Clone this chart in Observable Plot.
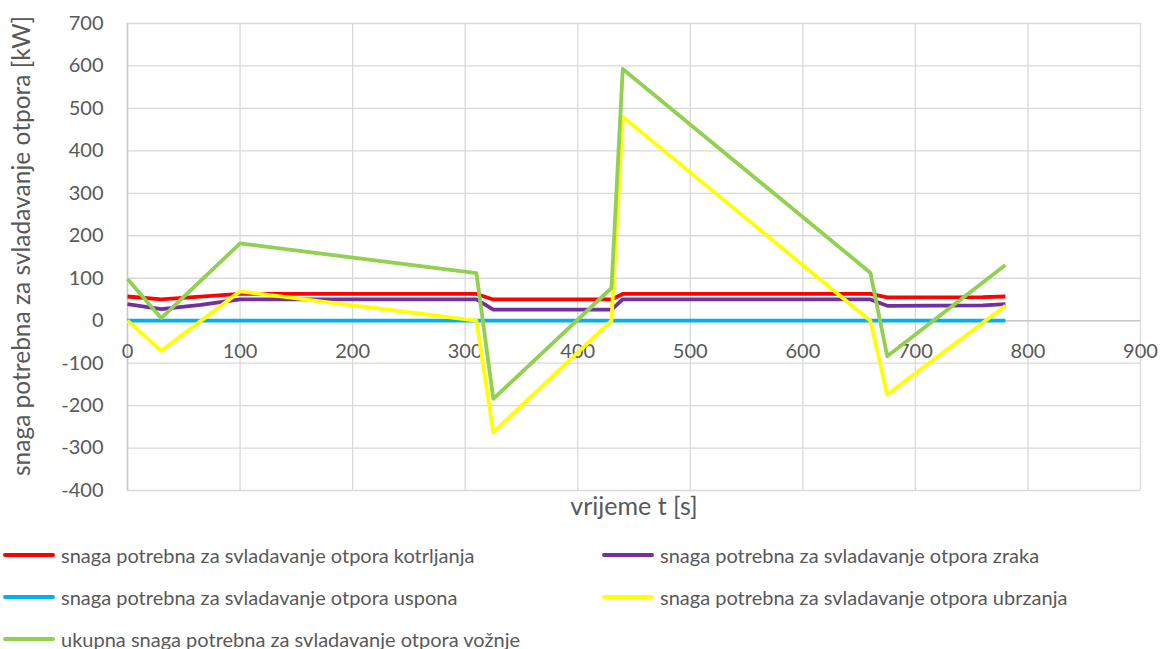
<!DOCTYPE html>
<html>
<head>
<meta charset="utf-8">
<script src="https://cdn.jsdelivr.net/npm/d3@7"></script>
<script src="https://cdn.jsdelivr.net/npm/@observablehq/plot@0.6"></script>
<style>
  html, body { margin: 0; padding: 0; background: #fff; }
  #wrap { position: relative; width: 1163px; height: 649px; font-family: Lato, "Open Sans", sans-serif; color: #595959; }
  #legend { position: absolute; left: 0; top: 530px; width: 1163px; }
  .item { position: absolute; height: 42px; display: flex; align-items: center; font-size: 20px; white-space: nowrap; }
  .sw { width: 52px; height: 4px; border-radius: 2px; margin-right: 6px; }
</style>
</head>
<body>
<div id="wrap">
  <div id="chart"></div>
  <div id="legend"></div>
</div>
<script>
// ---- data ----
const xTicks = [0, 100, 200, 300, 400, 500, 600, 700, 800, 900];
const yTicks = [-400, -300, -200, -100, 0, 100, 200, 300, 400, 500, 600, 700];

const seriesNames = [
  "snaga potrebna za svladavanje otpora kotrljanja",
  "snaga potrebna za svladavanje otpora zraka",
  "snaga potrebna za svladavanje otpora uspona",
  "snaga potrebna za svladavanje otpora ubrzanja",
  "ukupna snaga potrebna za svladavanje otpora vožnje"
];
const seriesColors = ["#FF0000", "#7030A0", "#00B0F0", "#FFFF00", "#92D050"];

const tRolling = [0, 30, 65, 100, 310, 325, 430, 440, 660, 675, 760, 780];
const vRolling = [57, 50, 56.5, 63, 63, 50, 50, 63, 63, 55, 55.5, 57];

const tAir = [0, 30, 65, 100, 310, 325, 430, 440, 660, 675, 760, 780];
const vAir = [39, 27, 37, 50, 50, 26, 26, 50, 50, 35, 36, 39];

const tGrade = [0, 780];
const vGrade = [0, 0];

const tAccel = [0, 30, 100, 310, 325, 430, 440, 660, 675, 780];
const vAccel = [0, -71, 69, 0, -263, 0, 480, 0, -174, 35];

const tTotal = [0, 30, 100, 310, 325, 430, 440, 660, 675, 780];
const vTotal = [98, 6, 182, 112, -184, 77, 593, 113, -84, 131];

const seriesT = [tRolling, tAir, tGrade, tAccel, tTotal];
const seriesV = [vRolling, vAir, vGrade, vAccel, vTotal];

const rows = [];
seriesNames.forEach((name, i) => {
  seriesT[i].forEach((t, j) => rows.push({series: name, t, v: seriesV[i][j]}));
});

const textColor = "#595959";
const gridColor = "#d9d9d9";

const chart = Plot.plot({
  width: 1163,
  height: 530,
  marginLeft: 127,
  marginRight: 23,
  marginTop: 23,
  marginBottom: 40,
  style: {fontFamily: "Lato, 'Open Sans', sans-serif", fontSize: "20px", color: textColor, background: "#fff"},
  x: {domain: [0, 900], axis: null},
  y: {domain: [-400, 700], axis: null},
  color: {domain: seriesNames, range: seriesColors},
  marks: [
    Plot.gridY(yTicks, {stroke: gridColor, strokeOpacity: 1, strokeWidth: 1.3}),
    Plot.gridX(xTicks, {stroke: gridColor, strokeOpacity: 1, strokeWidth: 1.3}),
    Plot.ruleX([0], {stroke: "#c8c8c8", strokeWidth: 1.5}),
    Plot.ruleY([0], {stroke: "#c8c8c8", strokeWidth: 1.5}),
    Plot.axisY(yTicks, {tickSize: 0, tickPadding: 24, fontSize: 20, fill: textColor, label: null, tickFormat: d => String(d)}),
    Plot.text(xTicks, {x: d => d, y: 0, dy: 31, text: d => String(d), fill: textColor, fontSize: 20}),
    ...seriesNames.map(name => Plot.line(rows.filter(r => r.series === name), {
      x: "t", y: "v", stroke: "series", strokeWidth: 3.8, strokeLinejoin: "round", strokeLinecap: "butt"
    })),
    Plot.text(["snaga potrebna za svladavanje otpora [kW]"], {frameAnchor: "left", textAnchor: "middle", dx: -105, dy: -11, rotate: -90, fill: textColor, fontSize: 24.5}),
    Plot.text(["vrijeme t [s]"], {frameAnchor: "bottom", dy: 24, fill: textColor, fontSize: 25})
  ]
});
document.getElementById("chart").appendChild(chart);

// legend
const legendPos = [
  {left: 3, top: 4}, {left: 602, top: 4},
  {left: 3, top: 46}, {left: 602, top: 46},
  {left: 3, top: 88}
];
const legend = document.getElementById("legend");
seriesNames.forEach((name, i) => {
  const it = document.createElement("div");
  it.className = "item";
  it.style.left = legendPos[i].left + "px";
  it.style.top = legendPos[i].top + "px";
  const sw = document.createElement("span");
  sw.className = "sw";
  sw.style.background = seriesColors[i];
  const tx = document.createElement("span");
  tx.textContent = name;
  it.appendChild(sw);
  it.appendChild(tx);
  legend.appendChild(it);
});
</script>
</body>
</html>
